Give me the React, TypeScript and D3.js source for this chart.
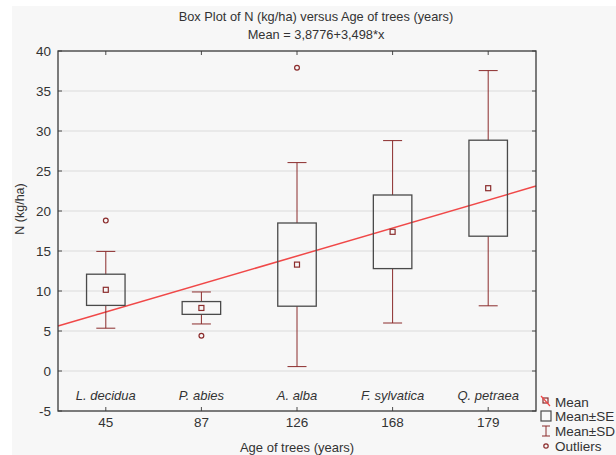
import React from "react";
import * as d3 from "d3";

const species = ["L. decidua", "P. abies", "A. alba", "F. sylvatica", "Q. petraea"];
const ages = ["45", "87", "126", "168", "179"];
const means = [10.15, 7.88, 13.3, 17.4, 22.85];
const se = [1.95, 0.8, 5.2, 4.6, 6.0];
const sd = [4.8, 2.0, 12.75, 11.4, 14.7];
const outliers: number[][] = [[18.8], [4.4], [37.9], [], []];
const yTicks = [-5, 0, 5, 10, 15, 20, 25, 30, 35, 40];
const regIntercept = 3.8776;
const regSlope = 3.498;

const W = 616, H = 455;
const L = 58, R = 536, T = 51, B = 411;
const font = "'Liberation Sans', Arial, sans-serif";
const dark = "#8b2c2c";
const boxCol = "#4a4a4a";
const txt = "#333";

export default function App() {
  const x = d3.scaleLinear().domain([0.5, 5.5]).range([L, R]);
  const y = d3.scaleLinear().domain([-5, 40]).range([B, T]);
  const boxW = 38.5, capW = 19;
  const line = d3.line<number>().x((d) => x(d)).y((d) => y(regIntercept + regSlope * d));
  return (
    <svg width={W} height={H} style={{ position: "absolute", left: 0, top: 0, fontFamily: font }}>
      <rect x={0} y={0} width={W} height={H} fill="#fff" />
      <rect x={12} y={6} width={W - 12} height={H - 6} fill="#f7f7f7" />
      <text x={316} y={21} textAnchor="middle" fontSize={12.8} fill={txt}>Box Plot of N (kg/ha) versus Age of trees (years)</text>
      <text x={316} y={39} textAnchor="middle" fontSize={12.8} fill={txt}>Mean = 3,8776+3,498*x</text>
      {yTicks.map((t) => (
        <g key={t}>
          {t > -5 && t < 40 && <line x1={L} x2={R} y1={y(t)} y2={y(t)} stroke="#dcdcdc" strokeWidth={1.2} />}
          <line x1={L} x2={L + 4} y1={y(t)} y2={y(t)} stroke={boxCol} />
          <line x1={R - 4} x2={R} y1={y(t)} y2={y(t)} stroke={boxCol} />
          <text x={51} y={y(t) + 4.5} textAnchor="end" fontSize={13.5} fill={txt}>{t}</text>
        </g>
      ))}
      <path d={line([0.5, 5.5]) || ""} stroke="#f04848" strokeWidth={1.5} fill="none" />
      {species.map((s, i) => {
        const cx = x(i + 1);
        const m = means[i];
        return (
          <g key={s}>
            <line x1={cx} x2={cx} y1={y(m + sd[i])} y2={y(m + se[i])} stroke={dark} />
            <line x1={cx} x2={cx} y1={y(m - se[i])} y2={y(m - sd[i])} stroke={dark} />
            <line x1={cx - capW / 2} x2={cx + capW / 2} y1={y(m + sd[i])} y2={y(m + sd[i])} stroke={dark} />
            <line x1={cx - capW / 2} x2={cx + capW / 2} y1={y(m - sd[i])} y2={y(m - sd[i])} stroke={dark} />
            <rect x={cx - boxW / 2} y={y(m + se[i])} width={boxW} height={y(m - se[i]) - y(m + se[i])} fill="none" stroke={boxCol} strokeWidth={1.3} />
            <rect x={cx - 2.5} y={y(m) - 2.5} width={5} height={5} fill="#f7f7f7" stroke={dark} strokeWidth={1.2} />
            {outliers[i].map((o, j) => (
              <circle key={j} cx={cx} cy={y(o)} r={2.4} fill="#f7f7f7" stroke={dark} strokeWidth={1.2} />
            ))}
            <line x1={cx} x2={cx} y1={T} y2={T + 4} stroke={boxCol} />
            <line x1={cx} x2={cx} y1={B} y2={B - 4} stroke={boxCol} />
            <text x={cx} y={400} textAnchor="middle" fontSize={13} fontStyle="italic" fill={txt}>{s}</text>
            <text x={cx} y={427} textAnchor="middle" fontSize={13.5} fill={txt}>{ages[i]}</text>
          </g>
        );
      })}
      <rect x={L} y={T} width={R - L} height={B - T} fill="none" stroke="#3a3a3a" strokeWidth={1.3} />
      <text x={297} y={452} textAnchor="middle" fontSize={13} fill={txt}>Age of trees (years)</text>
      <text transform={`translate(24,209) rotate(-90)`} textAnchor="middle" fontSize={12.5} fill={txt}>N (kg/ha)</text>
      <g>
        <rect x={543} y={398} width={5} height={5} fill="#f7f7f7" stroke={dark} strokeWidth={1.2} />
        <line x1={541} y1={396} x2={550} y2={406} stroke="#f04848" strokeWidth={1.2} />
        <text x={555} y={407} fontSize={13.5} fill={txt}>Mean</text>
        <rect x={541} y={411} width={10} height={10} fill="none" stroke={boxCol} strokeWidth={1.2} />
        <text x={555} y={421} fontSize={13.5} fill={txt}>Mean±SE</text>
        <line x1={546} x2={546} y1={426} y2={436} stroke={dark} />
        <line x1={542} x2={550} y1={426} y2={426} stroke={dark} />
        <line x1={542} x2={550} y1={436} y2={436} stroke={dark} />
        <text x={555} y={436} fontSize={13.5} fill={txt}>Mean±SD</text>
        <circle cx={546} cy={446} r={2.2} fill="none" stroke={dark} strokeWidth={1.2} />
        <text x={555} y={451} fontSize={13.5} fill={txt}>Outliers</text>
      </g>
    </svg>
  );
}
